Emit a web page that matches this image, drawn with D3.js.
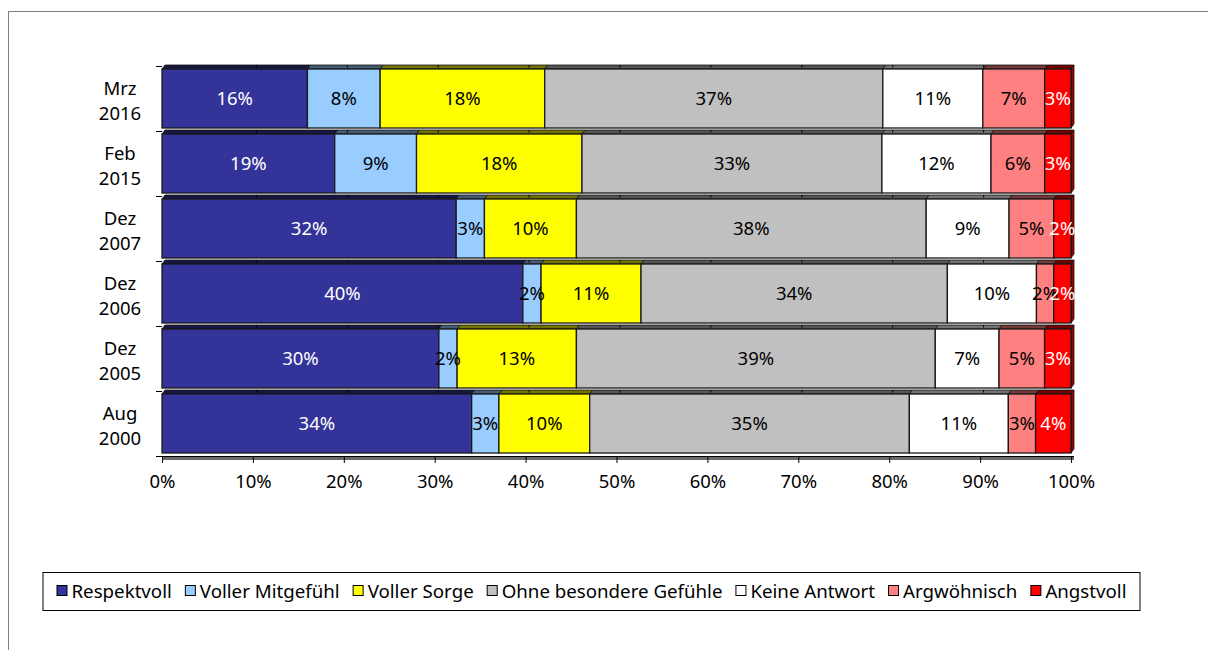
<!DOCTYPE html>
<html>
<head>
<meta charset="utf-8">
<script src="https://cdn.jsdelivr.net/npm/d3@7"></script>
<style>
  html, body { margin: 0; padding: 0; background: #fff; }
  svg { display: block; }
  text { font-family: "Noto Sans", "Liberation Sans", sans-serif; }
</style>
</head>
<body>
<svg id="chart" width="1208" height="650"></svg>
<script>
// ---- Data ----
const categories = [["Mrz", "2016"], ["Feb", "2015"], ["Dez", "2007"], ["Dez", "2006"], ["Dez", "2005"], ["Aug", "2000"]];
const seriesNames = ["Respektvoll", "Voller Mitgefühl", "Voller Sorge", "Ohne besondere Gefühle", "Keine Antwort", "Argwöhnisch", "Angstvoll"];
const seriesColors = ["#333399", "#99CCFF", "#FFFF00", "#C0C0C0", "#FFFFFF", "#FF8080", "#FF0000"];
const labelColors = ["#ffffff", "#000000", "#000000", "#000000", "#000000", "#000000", "#ffffff"];
const respektvoll    = [16.0, 19.0, 32.3, 39.7, 30.4, 34.1];
const vollerMitgefuehl = [8.0, 9.0, 3.1, 2.0, 2.0, 3.0];
const vollerSorge    = [18.1, 18.2, 10.1, 11.0, 13.1, 10.0];
const ohneGefuehle   = [37.2, 33.0, 38.4, 33.7, 39.4, 35.2];
const keineAntwort   = [11.0, 12.0, 9.1, 9.8, 7.0, 10.9];
const argwoehnisch   = [6.8, 5.9, 4.9, 1.9, 5.0, 3.0];
const angstvoll      = [2.9, 2.9, 1.9, 1.9, 2.9, 3.9];
const xTicks = [0, 0.1, 0.2, 0.3, 0.4, 0.5, 0.6, 0.7, 0.8, 0.9, 1.0];

const seriesValues = [respektvoll, vollerMitgefuehl, vollerSorge, ohneGefuehle, keineAntwort, argwoehnisch, angstvoll];

// ---- Layout ----
const svg = d3.select("#chart");
const plotLeft = 162, plotRight = 1071, plotTop = 66, plotBottom = 456;
const depthX = 3, depthY = 4;

// outer frame
svg.append("rect").attr("x", 8.5).attr("y", 11.5).attr("width", 1300).attr("height", 800)
  .attr("fill", "none").attr("stroke", "#7f7f7f").attr("stroke-width", 1);

const catKeys = categories.map(c => c.join(" "));
const y = d3.scaleBand().domain(catKeys).range([plotTop, plotBottom]).paddingInner(0).paddingOuter(0);
const x = d3.scaleLinear().domain([0, 1]).range([plotLeft, plotRight]);

// build normalized stacked table
const table = catKeys.map((k, i) => {
  const row = { key: k };
  seriesNames.forEach((s, j) => row[s] = seriesValues[j][i]);
  return row;
});
const stack = d3.stack().keys(seriesNames).offset(d3.stackOffsetExpand);
const stacked = stack(table);

// floor
svg.append("rect").attr("x", plotLeft).attr("y", plotBottom).attr("width", plotRight - plotLeft + depthX)
  .attr("height", 4).attr("fill", "#6b6b6b");
svg.append("line").attr("x1", plotLeft).attr("x2", plotRight + depthX).attr("y1", plotBottom + 0.5).attr("y2", plotBottom + 0.5)
  .attr("stroke", "#000").attr("stroke-width", 1.2);

const frontTop = k => y(k) + 3;
const frontH = () => y.bandwidth() - 6;

const gBars = svg.append("g");
stacked.forEach((layer, j) => {
  const col = d3.color(seriesColors[j]);
  const dark = d3.rgb(col.r * 0.45, col.g * 0.45, col.b * 0.45);
  layer.forEach((d, i) => {
    const k = catKeys[i];
    const x0 = x(d[0]), x1 = x(d[1]);
    const ft = frontTop(k);
    // top face
    gBars.append("path")
      .attr("d", `M${x0},${ft} L${x0 + depthX},${ft - depthY} L${x1 + depthX},${ft - depthY} L${x1},${ft} Z`)
      .attr("fill", dark).attr("stroke", "#111").attr("stroke-width", 0.8);
    // side face (only for last segment)
    if (j === seriesNames.length - 1) {
      gBars.append("path")
        .attr("d", `M${x1},${ft} L${x1 + depthX},${ft - depthY} L${x1 + depthX},${ft + frontH() - depthY} L${x1},${ft + frontH()} Z`)
        .attr("fill", d3.rgb(col.r * 0.6, col.g * 0.6, col.b * 0.6)).attr("stroke", "#111").attr("stroke-width", 0.8);
    }
    // front face
    gBars.append("rect")
      .attr("x", x0).attr("y", ft).attr("width", x1 - x0).attr("height", frontH())
      .attr("fill", seriesColors[j]).attr("stroke", "#1a1a1a").attr("stroke-width", 1.3);
  });
});

// gridline marks on the top faces
catKeys.forEach(k => {
  const ft = frontTop(k);
  xTicks.slice(1, -1).forEach(t => {
    svg.append("line").attr("x1", x(t) + depthX + 0.5).attr("x2", x(t) + depthX + 0.5)
      .attr("y1", ft - depthY).attr("y2", ft - 1.5).attr("stroke", "#000").attr("stroke-width", 1);
  });
});

// value labels
stacked.forEach((layer, j) => {
  layer.forEach((d, i) => {
    const k = catKeys[i];
    const raw = seriesValues[j][i];
    svg.append("text")
      .attr("x", (x(d[0]) + x(d[1])) / 2)
      .attr("y", frontTop(k) + frontH() / 2)
      .attr("dy", "0.35em")
      .attr("text-anchor", "middle")
      .attr("font-size", 18.5)
      .attr("fill", labelColors[j])
      .text(Math.round(raw) + "%");
  });
});

// y axis ticks and category labels
const yTickPos = catKeys.map(k => y(k)).concat([plotBottom]);
yTickPos.forEach(p => {
  svg.append("line").attr("x1", plotLeft - 6).attr("x2", plotLeft).attr("y1", p + 0.5).attr("y2", p + 0.5)
    .attr("stroke", "#000").attr("stroke-width", 1);
});
categories.forEach((c, i) => {
  const t = svg.append("text").attr("text-anchor", "middle").attr("font-size", 18.5).attr("fill", "#000");
  t.append("tspan").attr("x", 120).attr("y", y(catKeys[i]) + 29).text(c[0]);
  t.append("tspan").attr("x", 120).attr("y", y(catKeys[i]) + 54).text(c[1]);
});

// x axis
const xAxis = d3.axisBottom(x).tickValues(xTicks).tickFormat(d3.format(".0%")).tickSize(7).tickPadding(12);
const gx = svg.append("g").attr("transform", `translate(0,${plotBottom})`).call(xAxis);
gx.select(".domain").remove();
gx.selectAll("line").attr("stroke", "#000");
gx.selectAll("text").attr("font-size", 18.5).attr("fill", "#000")
  .style("font-family", '"Noto Sans", "Liberation Sans", sans-serif');

// legend
const legend = svg.append("g");
const legendY = 591;
let lx = 0;
seriesNames.forEach((s, j) => {
  const g = legend.append("g");
  g.append("rect").attr("x", 0.5).attr("y", -5.5).attr("width", 10).attr("height", 10)
    .attr("fill", seriesColors[j]).attr("stroke", "#000").attr("stroke-width", 1);
  const t = g.append("text").attr("x", 15).attr("y", 0).attr("dy", "0.35em").attr("font-size", 18.7).attr("fill", "#000").text(s);
  const w = t.node().getComputedTextLength();
  g.attr("transform", `translate(${lx},${legendY})`);
  lx += 15 + w + 13;
});
const totalW = lx - 13;
const boxCenter = 591.5;
const startX = boxCenter - totalW / 2;
legend.attr("transform", `translate(${startX},0)`);
svg.insert("rect", "g").attr("x", startX - 13.5).attr("y", 572.5).attr("width", totalW + 17 + 10).attr("height", 38)
  .attr("fill", "#fff").attr("stroke", "#000").attr("stroke-width", 1);
</script>
</body>
</html>
